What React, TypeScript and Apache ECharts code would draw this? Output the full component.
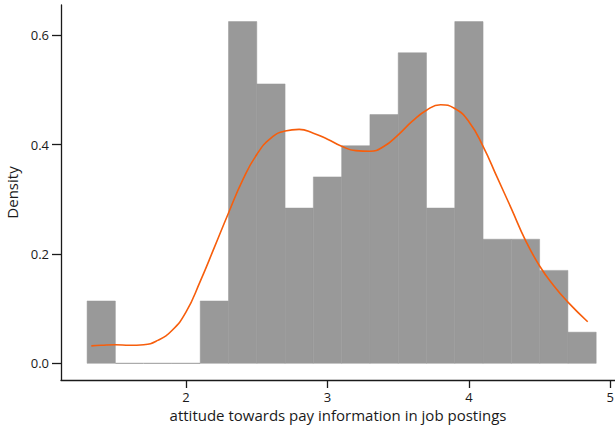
import React, { useEffect, useRef } from "react";
import * as echarts from "echarts";

// Histogram bins (edges) and their densities
const binEdges = [1.3, 1.5, 1.7, 1.9, 2.1, 2.3, 2.5, 2.7, 2.9, 3.1, 3.3, 3.5, 3.7, 3.9, 4.1, 4.3, 4.5, 4.7, 4.9];
const densities = [0.114, 0, 0, 0, 0.114, 0.625, 0.511, 0.284, 0.341, 0.398, 0.455, 0.568, 0.284, 0.625, 0.227, 0.227, 0.170, 0.057];

// Kernel density estimate
const kdeX = [1.33, 1.4, 1.5, 1.6, 1.7, 1.8, 1.9, 2.0, 2.1, 2.2, 2.3, 2.4, 2.5, 2.6, 2.7, 2.8, 2.9, 3.0, 3.1, 3.2, 3.3, 3.4, 3.5, 3.6, 3.7, 3.8, 3.9, 4.0, 4.1, 4.2, 4.3, 4.4, 4.5, 4.6, 4.7, 4.84];
const kdeY = [0.032, 0.033, 0.034, 0.033, 0.034, 0.042, 0.06, 0.094, 0.150, 0.212, 0.275, 0.335, 0.382, 0.412, 0.425, 0.428, 0.421, 0.410, 0.397, 0.389, 0.388, 0.397, 0.418, 0.443, 0.463, 0.473, 0.466, 0.442, 0.397, 0.340, 0.283, 0.225, 0.178, 0.142, 0.112, 0.076];

const xTicks = [2, 3, 4, 5];
const yTicks = [0, 0.2, 0.4, 0.6];

const FONT = "Open Sans";
const INK = "#1a1a1a";

export default function App() {
  const ref = useRef<HTMLDivElement>(null);

  useEffect(() => {
    if (!ref.current) return;
    const chart = echarts.init(ref.current, undefined, { renderer: "svg" });

    const barData = densities.map((d, i) => [binEdges[i], binEdges[i + 1], d]);
    const lineData = kdeX.map((x, i) => [x, kdeY[i]]);

    chart.setOption({
      animation: false,
      backgroundColor: "#ffffff",
      grid: { left: 61, right: 0, top: 5, bottom: 50, containLabel: false, outerBoundsMode: "none" },
      xAxis: {
        type: "value",
        min: 1.1155,
        max: 5.033,
        name: "attitude towards pay information in job postings",
        nameLocation: "middle",
        nameGap: 25,
        nameTextStyle: { fontFamily: FONT, fontSize: 15, color: INK },
        axisLine: { show: true, onZero: false, lineStyle: { color: INK, width: 1.3 } },
        axisTick: { show: true, length: 8, customValues: xTicks, lineStyle: { color: INK, width: 1.3 } },
        axisLabel: { customValues: xTicks, fontFamily: FONT, fontSize: 13, color: INK, margin: 10 },
        splitLine: { show: false },
      },
      yAxis: {
        type: "value",
        min: -0.0305,
        max: 0.6554,
        name: "Density",
        nameLocation: "middle",
        nameGap: 33,
        nameTextStyle: { fontFamily: FONT, fontSize: 15, color: INK },
        axisLine: { show: true, onZero: false, lineStyle: { color: INK, width: 1.3 } },
        axisTick: { show: true, length: 9, customValues: yTicks, lineStyle: { color: INK, width: 1.3 } },
        axisLabel: {
          customValues: yTicks,
          fontFamily: FONT,
          fontSize: 13,
          color: INK,
          margin: 12,
          formatter: (v: number) => v.toFixed(1),
        },
        splitLine: { show: false },
      },
      series: [
        {
          type: "custom",
          data: barData,
          encode: { x: [0, 1], y: 2 },
          renderItem: (_params: any, api: any) => {
            const x0 = api.value(0);
            const x1 = api.value(1);
            const d = api.value(2);
            const p0 = api.coord([x0, 0]);
            const p1 = api.coord([x1, d]);
            if (d === 0) {
              return {
                type: "line",
                shape: { x1: p0[0], y1: p0[1], x2: p1[0], y2: p0[1] },
                style: { stroke: "#999999", lineWidth: 1 },
              };
            }
            return {
              type: "rect",
              shape: { x: p0[0], y: p1[1], width: p1[0] - p0[0], height: p0[1] - p1[1] },
              style: { fill: "#999999", stroke: "#999999", lineWidth: 0.5 },
            };
          },
        },
        {
          type: "line",
          data: lineData,
          smooth: 0.5,
          symbol: "none",
          lineStyle: { color: "#f75e0c", width: 1.6 },
          z: 5,
        },
      ],
    });

    return () => chart.dispose();
  }, []);

  return (
    <div
      ref={ref}
      style={{ position: "fixed", left: 0, top: 0, width: 615, height: 430, background: "#fff" }}
    />
  );
}
